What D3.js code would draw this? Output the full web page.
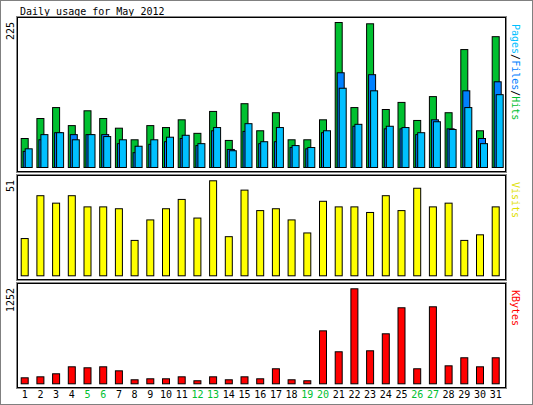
<!DOCTYPE html><html><head><meta charset="utf-8"><script src="https://cdn.jsdelivr.net/npm/d3@7"></script>
<style>body{margin:0;background:#fff}svg{display:block}text{font-family:"DejaVu Sans Mono",monospace;font-size:10px}</style></head><body>
<script>
const days=d3.range(1,32);
const weekend=[5,6,12,13,19,20,26,27];
const hits=[45,76,93,65,88,76,61,43,65,62,74,53,87,42,99,57,85,43,43,74,225,93,223,90,101,73,110,85,183,57,203];
const files=[25,43,54,51,51,51,37,23,36,40,45,34,57,28,56,37,40,31,29,54,147,64,144,60,60,51,74,60,119,45,133];
const pages=[29,51,54,43,51,48,43,33,43,47,50,37,62,26,68,40,62,34,31,57,123,67,119,64,62,54,71,59,93,37,113];
const visits=[20,43,39,43,37,37,36,19,30,36,41,31,51,21,46,35,36,30,23,40,37,37,34,43,35,47,37,39,19,22,37];
const kbytes=[79,92,132,224,211,224,171,53,66,66,92,40,92,53,92,66,198,53,40,698,422,1252,435,659,1002,198,1015,237,343,224,343];
const svg=d3.select("body").append("svg").attr("width",533).attr("height",405);
svg.append("rect").attr("x",0.5).attr("y",0.5).attr("width",532).attr("height",404).attr("fill","#fff").attr("stroke","#808080");
svg.append("text").attr("x",20).attr("y",15).text("Daily usage for May 2012");
const x=d3.scaleLinear().domain([1,31]).range([20.7,491.7]);
function panel(y0,y1,base,top,max){
  svg.append("rect").attr("x",17.5).attr("y",y0+0.5).attr("width",488).attr("height",y1-y0).attr("fill","#fff").attr("stroke","#000").attr("stroke-width",1);
  svg.append("rect").attr("x",16.5).attr("y",y0-0.5).attr("width",490).attr("height",y1-y0+2).attr("fill","none").attr("stroke","#888").attr("stroke-width",1);
  return d3.scaleLinear().domain([0,max]).range([base,top]);
}
function bars(data,y,off,color){
  svg.append("g").selectAll("rect").data(data).join("rect")
   .attr("x",(d,i)=>x(days[i])+off+0.5).attr("y",d=>y(d)+0.5)
   .attr("width",7).attr("height",d=>y(0)-y(d)).attr("fill",color).attr("stroke","#000").attr("stroke-width",1);
}
function ylab(txt,yTop){svg.append("text").attr("transform",`translate(14,${yTop}) rotate(-90)`).attr("text-anchor","end").text(txt);}
function rlab(parts,yTop){const t=svg.append("text").attr("transform",`translate(512,${yTop}) rotate(90)`);
  parts.forEach(p=>t.append("tspan").attr("fill",p[1]).text(p[0]));}
// top
const y1=panel(17,171,167,22,225);
bars(hits,y1,0,"#00c030");bars(files,y1,2,"#0080ff");bars(pages,y1,4,"#00c0ff");
ylab("225",22);rlab([["Pages","#00c0ff"],["/","#000"],["Files","#0080ff"],["/","#000"],["Hits","#00c030"]],24);
// visits
const y2=panel(175,279,275.3,180.3,51);
bars(visits,y2,0,"#ffff00");ylab("51",180);rlab([["Visits","#e0e000"]],182);
// kbytes
const y3=panel(283,387,383.3,288.3,1252);
bars(kbytes,y3,0,"#ff0000");ylab("1252",288);rlab([["KBytes","#ff0000"]],290);
svg.append("g").selectAll("text").data(days).join("text")
  .attr("x",d=>x(d)+4).attr("y",398).attr("text-anchor","middle")
  .attr("fill",d=>weekend.includes(d)?"#00c030":"#000").text(d=>d);
</script></body></html>
